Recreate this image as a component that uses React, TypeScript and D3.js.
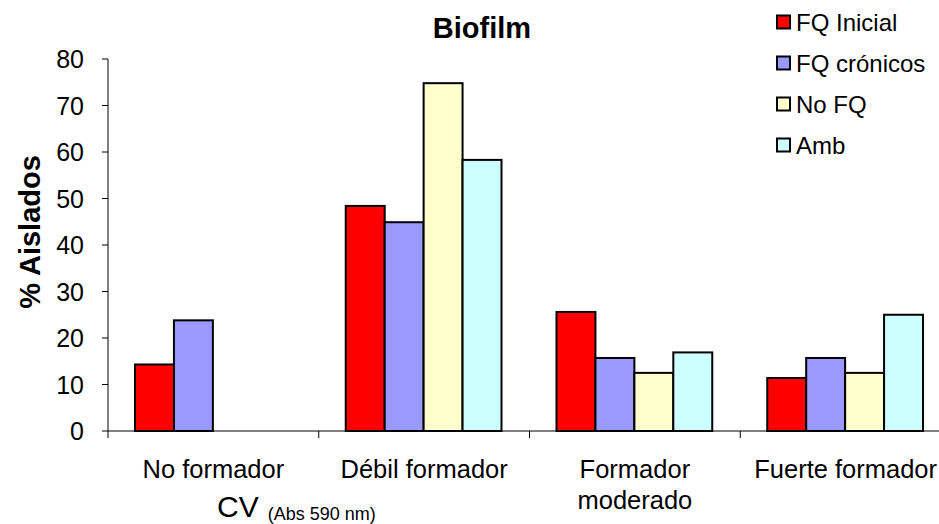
import * as d3 from "d3";

const categories = ["No formador", "Débil formador", "Formador moderado", "Fuerte formador"];
const categoryLines = [["No formador"], ["Débil formador"], ["Formador", "moderado"], ["Fuerte formador"]];
const series = ["FQ Inicial", "FQ crónicos", "No FQ", "Amb"];
const colors = ["#FF0000", "#9999FF", "#FFFFCC", "#CCFFFF"];

const fqInicial = [14.3, 48.4, 25.6, 11.4];
const fqCronicos = [23.8, 44.9, 15.7, 15.7];
const noFq = [0, 74.8, 12.5, 12.5];
const amb = [0, 58.3, 16.9, 25.0];
const values = [fqInicial, fqCronicos, noFq, amb];

const yTicks = [0, 10, 20, 30, 40, 50, 60, 70, 80];

const WIDTH = 939;
const HEIGHT = 524;
const MARGIN = { top: 59, right: -12, bottom: 93, left: 108 };
const FONT = "'Liberation Sans', Arial, sans-serif";

export default function App() {
  const boundsWidth = WIDTH - MARGIN.left - MARGIN.right;
  const boundsHeight = HEIGHT - MARGIN.top - MARGIN.bottom;

  const xScale = d3.scaleBand<string>().domain(categories).range([0, boundsWidth]);
  const inner = d3
    .scaleBand<string>()
    .domain(series)
    .range([27, xScale.bandwidth() - 28]);
  const yScale = d3.scaleLinear().domain([0, 80]).range([boundsHeight, 0]);

  return (
    <svg
      width={WIDTH}
      height={HEIGHT}
      style={{ position: "absolute", left: 0, top: 0, display: "block", background: "white" }}
      fontFamily={FONT}
    >
      <text x={482} y={38} textAnchor="middle" fontSize={29} fontWeight="bold">
        Biofilm
      </text>
      <text
        transform={`translate(40,232) rotate(-90)`}
        textAnchor="middle"
        fontSize={29}
        fontWeight="bold"
      >
        % Aislados
      </text>

      <g transform={`translate(${MARGIN.left},${MARGIN.top})`}>
        {/* bars */}
        {categories.map((c, ci) =>
          series.map((s, si) => {
            const v = values[si][ci];
            if (!v) return null;
            return (
              <rect
                key={c + s}
                x={(xScale(c) ?? 0) + (inner(s) ?? 0)}
                y={yScale(v)}
                width={inner.bandwidth()}
                height={boundsHeight - yScale(v)}
                fill={colors[si]}
                stroke="#000"
                strokeWidth={2}
              />
            );
          })
        )}

        {/* y axis */}
        <line x1={0} x2={0} y1={0} y2={boundsHeight} stroke="#000" strokeWidth={1} />
        {yTicks.map((t) => (
          <g key={t} transform={`translate(0,${yScale(t)})`}>
            <line x1={-6} x2={0} stroke="#000" />
            <text x={-24} dy="0.36em" textAnchor="end" fontSize={25}>
              {t}
            </text>
          </g>
        ))}

        {/* x axis */}
        <line x1={0} x2={boundsWidth} y1={boundsHeight} y2={boundsHeight} stroke="#000" />
        {categories.map((c, ci) => (
          <g key={c} transform={`translate(${xScale(c) ?? 0},${boundsHeight})`}>
            <line x1={0} x2={0} y1={0} y2={7} stroke="#000" />
            {categoryLines[ci].map((line, li) => (
              <text
                key={line}
                x={xScale.bandwidth() / 2}
                y={47 + li * 31}
                textAnchor="middle"
                fontSize={25.5}
              >
                {line}
              </text>
            ))}
          </g>
        ))}
      </g>

      <text x={217} y={517} fontSize={30}>
        CV
        <tspan dx={9} dy={3} fontSize={18}>
          (Abs 590 nm)
        </tspan>
      </text>

      {/* legend */}
      {series.map((s, si) => (
        <g key={s} transform={`translate(777,${22 + si * 41})`}>
          <rect x={0} y={-6.5} width={13} height={13} fill={colors[si]} stroke="#000" strokeWidth={2} />
          <text x={19} dy="0.36em" fontSize={24}>
            {s}
          </text>
        </g>
      ))}
    </svg>
  );
}
